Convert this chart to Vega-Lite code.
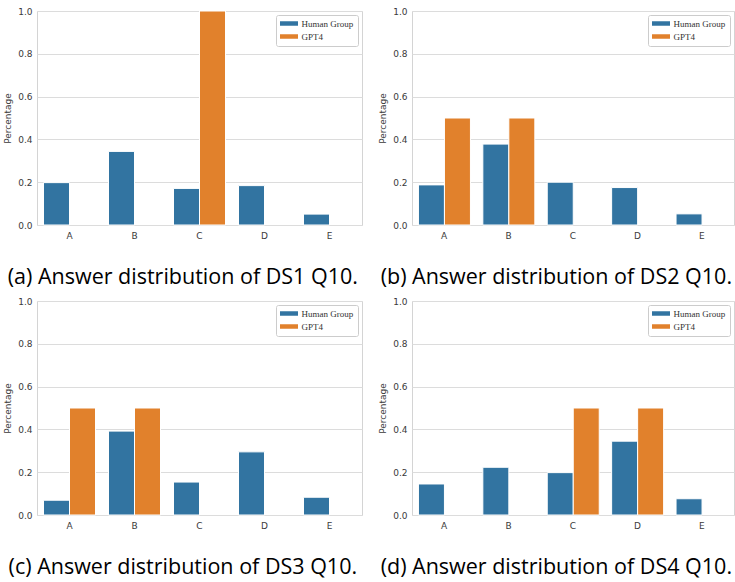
{
  "$schema": "https://vega.github.io/schema/vega-lite/v6.json",
  "background": "white",
  "padding": {"left": 3, "top": 6, "right": 0, "bottom": 0},
  "datasets": {
    "d": [
      {"panel": "a", "answer": "A", "group": "Human Group", "value": 0.198},
      {"panel": "a", "answer": "B", "group": "Human Group", "value": 0.344},
      {"panel": "a", "answer": "C", "group": "Human Group", "value": 0.171},
      {"panel": "a", "answer": "D", "group": "Human Group", "value": 0.184},
      {"panel": "a", "answer": "E", "group": "Human Group", "value": 0.051},
      {"panel": "a", "answer": "A", "group": "GPT4", "value": 0},
      {"panel": "a", "answer": "B", "group": "GPT4", "value": 0},
      {"panel": "a", "answer": "C", "group": "GPT4", "value": 1.0},
      {"panel": "a", "answer": "D", "group": "GPT4", "value": 0},
      {"panel": "a", "answer": "E", "group": "GPT4", "value": 0},
      {"panel": "b", "answer": "A", "group": "Human Group", "value": 0.1875},
      {"panel": "b", "answer": "B", "group": "Human Group", "value": 0.378},
      {"panel": "b", "answer": "C", "group": "Human Group", "value": 0.2},
      {"panel": "b", "answer": "D", "group": "Human Group", "value": 0.175},
      {"panel": "b", "answer": "E", "group": "Human Group", "value": 0.052},
      {"panel": "b", "answer": "A", "group": "GPT4", "value": 0.5},
      {"panel": "b", "answer": "B", "group": "GPT4", "value": 0.5},
      {"panel": "b", "answer": "C", "group": "GPT4", "value": 0},
      {"panel": "b", "answer": "D", "group": "GPT4", "value": 0},
      {"panel": "b", "answer": "E", "group": "GPT4", "value": 0},
      {"panel": "c", "answer": "A", "group": "Human Group", "value": 0.069},
      {"panel": "c", "answer": "B", "group": "Human Group", "value": 0.392},
      {"panel": "c", "answer": "C", "group": "Human Group", "value": 0.154},
      {"panel": "c", "answer": "D", "group": "Human Group", "value": 0.295},
      {"panel": "c", "answer": "E", "group": "Human Group", "value": 0.083},
      {"panel": "c", "answer": "A", "group": "GPT4", "value": 0.5},
      {"panel": "c", "answer": "B", "group": "GPT4", "value": 0.5},
      {"panel": "c", "answer": "C", "group": "GPT4", "value": 0},
      {"panel": "c", "answer": "D", "group": "GPT4", "value": 0},
      {"panel": "c", "answer": "E", "group": "GPT4", "value": 0},
      {"panel": "d", "answer": "A", "group": "Human Group", "value": 0.145},
      {"panel": "d", "answer": "B", "group": "Human Group", "value": 0.223},
      {"panel": "d", "answer": "C", "group": "Human Group", "value": 0.198},
      {"panel": "d", "answer": "D", "group": "Human Group", "value": 0.345},
      {"panel": "d", "answer": "E", "group": "Human Group", "value": 0.076},
      {"panel": "d", "answer": "A", "group": "GPT4", "value": 0},
      {"panel": "d", "answer": "B", "group": "GPT4", "value": 0},
      {"panel": "d", "answer": "C", "group": "GPT4", "value": 0.5},
      {"panel": "d", "answer": "D", "group": "GPT4", "value": 0.5},
      {"panel": "d", "answer": "E", "group": "GPT4", "value": 0}
    ]
  },
  "config": {
    "font": "DejaVu Sans",
    "view": {"stroke": "#d4d4d4", "strokeWidth": 1},
    "axis": {
      "labelFont": "DejaVu Sans", "labelFontSize": 9, "labelColor": "#3a3a3a",
      "titleFont": "DejaVu Sans", "titleFontSize": 9, "titleFontWeight": "normal", "titleColor": "#3a3a3a",
      "ticks": false, "domain": false, "gridColor": "#dcdcdc", "gridWidth": 1
    },
    "axisX": {"grid": false, "labelAngle": 0, "labelPadding": 6},
    "axisY": {"labelPadding": 5, "titlePadding": 5},
    "legend": {
      "strokeColor": "#cccccc", "fillColor": "white", "padding": 4, "cornerRadius": 2,
      "labelFont": "Liberation Serif", "labelFontSize": 9, "labelColor": "#333333",
      "rowPadding": 3, "offset": 4, "labelOffset": 8, "symbolOffset": 4.5
    },
    "title": {
      "font": "Open Sans", "fontSize": 21.5, "fontWeight": "normal", "color": "black",
      "orient": "bottom", "anchor": "middle", "frame": "bounds", "offset": 27
    }
  },
  "spacing": 7,
  "resolve": {"legend": {"color": "independent"}},
  "vconcat": [
    {
      "spacing": 15,
      "resolve": {"legend": {"color": "independent"}},
      "hconcat": [
        {
          "data": {"name": "d"},
          "transform": [{"filter": "datum.panel == 'a'"}],
          "width": 325, "height": 214,
          "title": "(a) Answer distribution of DS1 Q10.",
          "mark": {"type": "bar", "stroke": "white", "strokeWidth": 1},
          "encoding": {
            "x": {"field": "answer", "type": "nominal", "title": null, "scale": {"paddingInner": 0.2, "paddingOuter": 0.1}},
            "xOffset": {"field": "group", "type": "nominal", "scale": {"domain": ["Human Group", "GPT4"]}},
            "y": {"field": "value", "type": "quantitative", "scale": {"domain": [0, 1]}, "axis": {"title": "Percentage", "values": [0, 0.2, 0.4, 0.6, 0.8, 1], "format": ".1f"}},
            "strokeOpacity": {"condition": {"test": "datum.value > 0", "value": 1}, "value": 0},
            "color": {"field": "group", "type": "nominal", "scale": {"domain": ["Human Group", "GPT4"], "range": ["#3274a1", "#e1812c"]}, "legend": {"title": null, "orient": "top-right", "symbolType": "M-2,-0.5H2V0.5H-2Z", "symbolSize": 81, "symbolStrokeWidth": 0}}
          }
        },
        {
          "data": {"name": "d"},
          "transform": [{"filter": "datum.panel == 'b'"}],
          "width": 322, "height": 214,
          "title": "(b) Answer distribution of DS2 Q10.",
          "mark": {"type": "bar", "stroke": "white", "strokeWidth": 1},
          "encoding": {
            "x": {"field": "answer", "type": "nominal", "title": null, "scale": {"paddingInner": 0.2, "paddingOuter": 0.1}},
            "xOffset": {"field": "group", "type": "nominal", "scale": {"domain": ["Human Group", "GPT4"]}},
            "y": {"field": "value", "type": "quantitative", "scale": {"domain": [0, 1]}, "axis": {"title": "Percentage", "values": [0, 0.2, 0.4, 0.6, 0.8, 1], "format": ".1f"}},
            "strokeOpacity": {"condition": {"test": "datum.value > 0", "value": 1}, "value": 0},
            "color": {"field": "group", "type": "nominal", "scale": {"domain": ["Human Group", "GPT4"], "range": ["#3274a1", "#e1812c"]}, "legend": {"title": null, "orient": "top-right", "symbolType": "M-2,-0.5H2V0.5H-2Z", "symbolSize": 81, "symbolStrokeWidth": 0}}
          }
        }
      ]
    },
    {
      "spacing": 15,
      "resolve": {"legend": {"color": "independent"}},
      "hconcat": [
        {
          "data": {"name": "d"},
          "transform": [{"filter": "datum.panel == 'c'"}],
          "width": 325, "height": 214,
          "title": "(c) Answer distribution of DS3 Q10.",
          "mark": {"type": "bar", "stroke": "white", "strokeWidth": 1},
          "encoding": {
            "x": {"field": "answer", "type": "nominal", "title": null, "scale": {"paddingInner": 0.2, "paddingOuter": 0.1}},
            "xOffset": {"field": "group", "type": "nominal", "scale": {"domain": ["Human Group", "GPT4"]}},
            "y": {"field": "value", "type": "quantitative", "scale": {"domain": [0, 1]}, "axis": {"title": "Percentage", "values": [0, 0.2, 0.4, 0.6, 0.8, 1], "format": ".1f"}},
            "strokeOpacity": {"condition": {"test": "datum.value > 0", "value": 1}, "value": 0},
            "color": {"field": "group", "type": "nominal", "scale": {"domain": ["Human Group", "GPT4"], "range": ["#3274a1", "#e1812c"]}, "legend": {"title": null, "orient": "top-right", "symbolType": "M-2,-0.5H2V0.5H-2Z", "symbolSize": 81, "symbolStrokeWidth": 0}}
          }
        },
        {
          "data": {"name": "d"},
          "transform": [{"filter": "datum.panel == 'd'"}],
          "width": 322, "height": 214,
          "title": "(d) Answer distribution of DS4 Q10.",
          "mark": {"type": "bar", "stroke": "white", "strokeWidth": 1},
          "encoding": {
            "x": {"field": "answer", "type": "nominal", "title": null, "scale": {"paddingInner": 0.2, "paddingOuter": 0.1}},
            "xOffset": {"field": "group", "type": "nominal", "scale": {"domain": ["Human Group", "GPT4"]}},
            "y": {"field": "value", "type": "quantitative", "scale": {"domain": [0, 1]}, "axis": {"title": "Percentage", "values": [0, 0.2, 0.4, 0.6, 0.8, 1], "format": ".1f"}},
            "strokeOpacity": {"condition": {"test": "datum.value > 0", "value": 1}, "value": 0},
            "color": {"field": "group", "type": "nominal", "scale": {"domain": ["Human Group", "GPT4"], "range": ["#3274a1", "#e1812c"]}, "legend": {"title": null, "orient": "top-right", "symbolType": "M-2,-0.5H2V0.5H-2Z", "symbolSize": 81, "symbolStrokeWidth": 0}}
          }
        }
      ]
    }
  ]
}
